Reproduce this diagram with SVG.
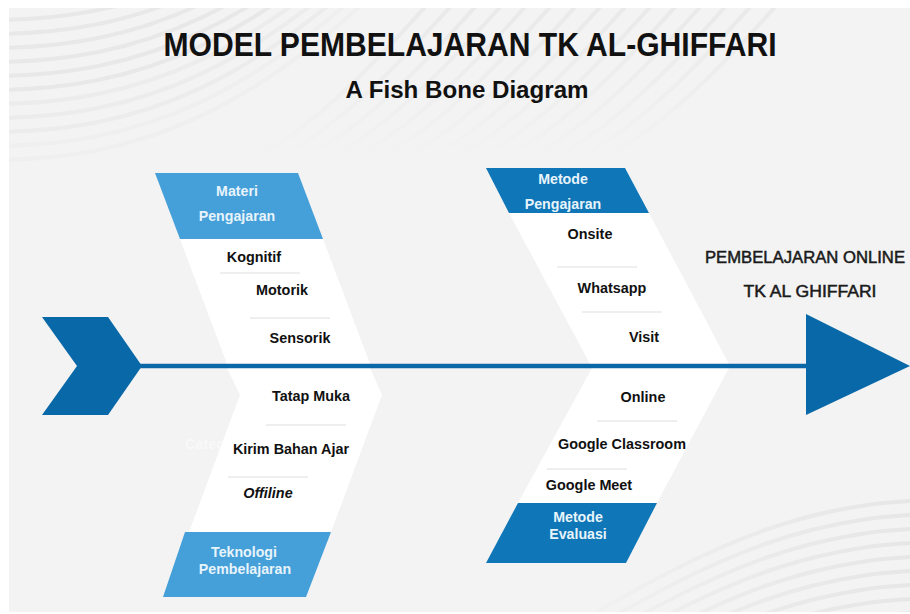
<svg xmlns="http://www.w3.org/2000/svg" width="910" height="614" viewBox="0 0 910 614">
<style>
.t{font-family:"Liberation Sans",Arial,sans-serif;font-weight:700;text-anchor:middle}
.i{font-size:14.4px;fill:#111}
.h{font-size:14.2px;fill:#e8f4fb}
.d{stroke:#dedede;stroke-width:1;fill:none}
.w{fill:none;stroke:#e8e8e8;stroke-width:4}
.f{fill:none;stroke:url(#g);stroke-width:4}
.e{fill:none;stroke:url(#g2);stroke-width:4}
.b{fill:#fff}
</style>
<defs>
<clipPath id="bgc"><rect x="9" y="8" width="901" height="604"/></clipPath>
<linearGradient id="g" x1="0" y1="0" x2="0" y2="1"><stop offset="0" stop-color="#e8e8e8"/><stop offset="1" stop-color="#f3f3f3"/></linearGradient>
<linearGradient id="g2" x1="1" y1="0" x2="0" y2="1"><stop offset="0" stop-color="#e6e6e6"/><stop offset="1" stop-color="#f3f3f3"/></linearGradient>
<path id="a" d="M-20 0C130 0 250-45 420-220"/>
<path id="m" d="M0 0C60-30 120-90 190-170"/>
<path id="c" d="M40 0C-90 0-180 30-360 140"/>
</defs>
<rect width="910" height="614" fill="#fff"/>
<g id="background" clip-path="url(#bgc)">
<rect x="9" y="8" width="901" height="604" fill="#f3f3f3"/>
<g class="w">
<use href="#a" x="9" y="20"/><use href="#a" x="9" y="34"/><use href="#a" x="9" y="48"/><use href="#a" x="9" y="62"/>
<use href="#a" x="9" y="76"/><use href="#a" x="9" y="90"/>
</g>
<g class="w" opacity=".6">
<use href="#a" x="9" y="104"/><use href="#a" x="9" y="118"/><use href="#a" x="9" y="132"/>
</g>
<g class="w" opacity=".3">
<use href="#a" x="9" y="146"/><use href="#a" x="9" y="160"/>
</g>
<g class="f">
<use href="#m" x="250" y="160"/><use href="#m" x="275" y="160"/><use href="#m" x="300" y="160"/><use href="#m" x="325" y="160"/><use href="#m" x="350" y="160"/><use href="#m" x="375" y="160"/><use href="#m" x="400" y="160"/><use href="#m" x="425" y="160"/><use href="#m" x="450" y="160"/><use href="#m" x="475" y="160"/><use href="#m" x="500" y="160"/><use href="#m" x="525" y="160"/><use href="#m" x="550" y="160"/><use href="#m" x="575" y="160"/><use href="#m" x="600" y="160"/>
</g>
<g class="e">
<use href="#c" x="910" y="500"/><use href="#c" x="910" y="514"/><use href="#c" x="910" y="528"/><use href="#c" x="910" y="542"/><use href="#c" x="910" y="556"/><use href="#c" x="910" y="570"/><use href="#c" x="910" y="584"/><use href="#c" x="910" y="598"/><use href="#c" x="910" y="612"/>
<use href="#c" x="860" y="625"/><use href="#c" x="810" y="640"/><use href="#c" x="760" y="655"/>
</g>
</g>
<text class="t" x="470" y="56" font-size="33" textLength="613" lengthAdjust="spacingAndGlyphs" fill="#111" id="title">MODEL PEMBELAJARAN TK AL-GHIFFARI</text>
<text class="t" x="467" y="98" font-size="24" textLength="243" lengthAdjust="spacingAndGlyphs" fill="#111" id="subtitle">A Fish Bone Diagram</text>
<g id="bones-white">
<polygon class="b" points="180,239 323,239 370,364 227,364"/>
<polygon class="b" points="227,368 370,368 382,395 331,532 189,532 240,395"/>
<polygon class="b" points="509,213 649,213 729,364 590,364"/>
<polygon class="b" points="592,368 729,368 657,503 518,503"/>
</g>
<text class="t" x="205" y="449" font-size="14" fill="#fff" opacity=".55" textLength="40">Categ</text>
<g id="connectors">
<line x1="140" y1="366" x2="808" y2="366" stroke="#0a68a8" stroke-width="4.5"/>
</g>
<g id="tail"><polygon fill="#0868a8" points="42,317 108,317 142,366 108,415 42,415 77,366"/></g>
<g id="head">
<polygon fill="#0868a8" points="806,314 910,366 806,415"/>
<text class="t" x="805" y="263" font-size="16.5" fill="#1a1a1a" stroke="#1a1a1a" stroke-width=".5" style="font-weight:400" textLength="200" lengthAdjust="spacingAndGlyphs">PEMBELAJARAN ONLINE</text>
<text class="t" x="810" y="297" font-size="16.5" fill="#1a1a1a" stroke="#1a1a1a" stroke-width=".5" style="font-weight:400" textLength="133" lengthAdjust="spacingAndGlyphs">TK AL GHIFFARI</text>
</g>
<g id="materi">
<polygon fill="#459fd9" points="155,173 298,173 323,239 180,239"/>
<text class="t h" x="237" y="196">Materi</text>
<text class="t h" x="237" y="221">Pengajaran</text>
<text class="t i" x="254" y="262">Kognitif</text>
<line class="d" x1="220" y1="273" x2="300" y2="273"/>
<text class="t i" x="282" y="295">Motorik</text>
<line class="d" x1="250" y1="318" x2="330" y2="318"/>
<text class="t i" x="300" y="343">Sensorik</text>
</g>
<g id="teknologi">
<polygon fill="#459fd9" points="185,532 331,532 306,597 163,597"/>
<text class="t h" x="244" y="557">Teknologi</text>
<text class="t h" x="245" y="574">Pembelajaran</text>
<text class="t i" x="311" y="401">Tatap Muka</text>
<line class="d" x1="266" y1="425" x2="346" y2="425"/>
<text class="t i" x="291" y="454">Kirim Bahan Ajar</text>
<line class="d" x1="228" y1="477" x2="308" y2="477"/>
<text class="t i" x="268" y="498" font-style="italic">Offiline</text>
</g>
<g id="metode-pengajaran">
<polygon fill="#0f76b8" points="486,168 625,168 649,213 509,213"/>
<text class="t h" x="563" y="184">Metode</text>
<text class="t h" x="563" y="209">Pengajaran</text>
<text class="t i" x="590" y="239">Onsite</text>
<line class="d" x1="557" y1="267" x2="637" y2="267"/>
<text class="t i" x="612" y="293">Whatsapp</text>
<line class="d" x1="582" y1="312" x2="662" y2="312"/>
<text class="t i" x="644" y="342">Visit</text>
</g>
<g id="metode-evaluasi">
<polygon fill="#0f76b8" points="518,503 657,503 626,563 486,563"/>
<text class="t h" x="578" y="522">Metode</text>
<text class="t h" x="578" y="539">Evaluasi</text>
<text class="t i" x="643" y="402">Online</text>
<line class="d" x1="597" y1="421" x2="677" y2="421"/>
<text class="t i" x="622" y="449">Google Classroom</text>
<line class="d" x1="547" y1="469" x2="627" y2="469"/>
<text class="t i" x="589" y="490">Google Meet</text>
</g>
</svg>
